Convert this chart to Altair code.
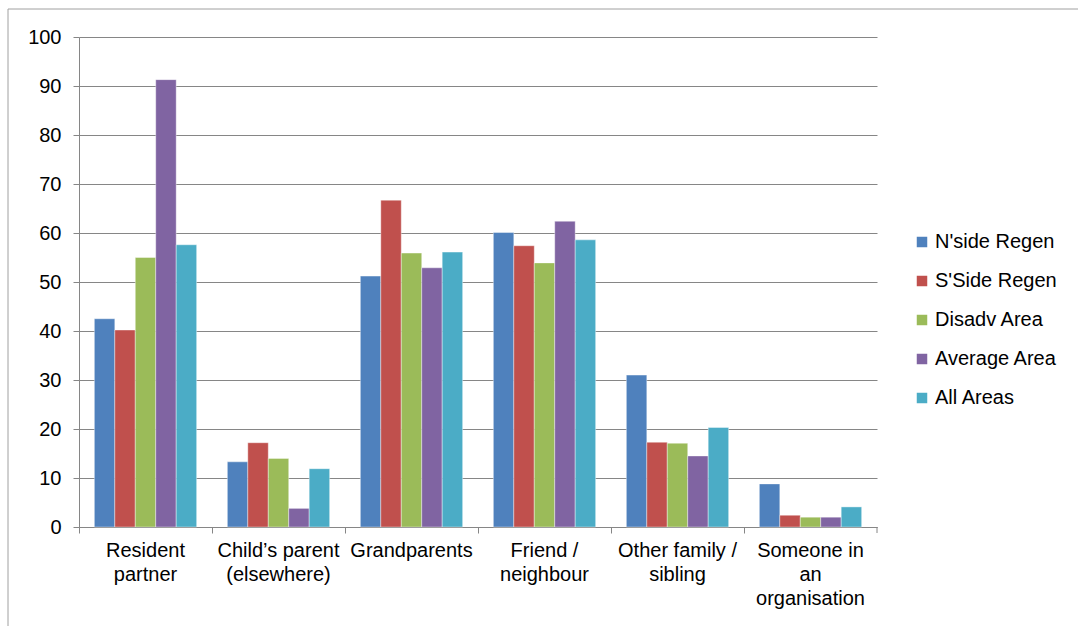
import json
import altair as alt
import pandas as pd

categories = [
    "Resident partner",
    "Child’s parent (elsewhere)",
    "Grandparents",
    "Friend / neighbour",
    "Other family / sibling",
    "Someone in an organisation",
]
label_lines = {
    "Resident partner": ["Resident", "partner"],
    "Child’s parent (elsewhere)": ["Child’s parent", "(elsewhere)"],
    "Grandparents": ["Grandparents"],
    "Friend / neighbour": ["Friend /", "neighbour"],
    "Other family / sibling": ["Other family /", "sibling"],
    "Someone in an organisation": ["Someone in", "an", "organisation"],
}
series = ["N'side Regen", "S'Side Regen", "Disadv Area", "Average Area", "All Areas"]
colors = ["#4F81BD", "#C0504D", "#9BBB59", "#8064A2", "#4BACC6"]

nside = [42.5, 13.3, 51.2, 60.1, 31.0, 8.8]
sside = [40.2, 17.2, 66.7, 57.4, 17.3, 2.4]
disadv = [55.0, 14.0, 55.9, 53.9, 17.1, 2.0]
average = [91.3, 3.8, 52.9, 62.4, 14.5, 2.0]
allareas = [57.6, 11.9, 56.1, 58.6, 20.3, 4.1]
y_ticks = list(range(0, 101, 10))

rows = []
for s, vals in zip(series, [nside, sside, disadv, average, allareas]):
    for c, v in zip(categories, vals):
        rows.append({"category": c, "series": s, "value": v})
df = pd.DataFrame(rows)

W, H = 798, 490
FONT = "Liberation Sans"
GREY = "#868686"
FS = 20

label_expr = json.dumps(label_lines, ensure_ascii=False) + "[datum.value]"

bars = alt.Chart(df).mark_bar(stroke="white", strokeWidth=0.4).encode(
    x=alt.X(
        "category:N",
        sort=categories,
        scale=alt.Scale(paddingInner=0, paddingOuter=0),
        axis=alt.Axis(
            title=None,
            bandPosition=0,
            labelExpr=label_expr,
            labelAngle=0,
            labelAlign="center",
            labelBaseline="top",
            labelFont=FONT,
            labelFontSize=FS,
            labelColor="black",
            labelLineHeight=24,
            labelPadding=7,
            labelOverlap=False,
            labelBound=False,
            tickSize=6,
            tickColor=GREY,
            domainColor=GREY,
            grid=False,
        ),
    ),
    xOffset=alt.XOffset(
        "series:N",
        sort=series,
        scale=alt.Scale(paddingInner=0, paddingOuter=0.75),
    ),
    y=alt.Y(
        "value:Q",
        scale=alt.Scale(domain=[0, 100], nice=False),
        axis=alt.Axis(
            title=None,
            values=y_ticks,
            labelFont=FONT,
            labelFontSize=FS,
            labelColor="black",
            labelPadding=12,
            tickSize=6,
            tickColor=GREY,
            domainColor=GREY,
            gridColor=GREY,
            gridWidth=1,
        ),
    ),
    color=alt.Color(
        "series:N",
        sort=series,
        scale=alt.Scale(domain=series, range=colors),
        legend=alt.Legend(
            title=None,
            orient="none",
            legendX=833,
            legendY=195,
            symbolType="square",
            symbolSize=110,
            symbolStrokeWidth=0,
            labelFont=FONT,
            labelFontSize=FS,
            labelColor="black",
            labelOffset=3,
            rowPadding=19,
        ),
    ),
)

one = pd.DataFrame({"k": [0]})
last_tick = alt.Chart(one).mark_rule(color=GREY, strokeWidth=1).encode(
    x=alt.value(W), y=alt.value(H), y2=alt.value(H + 6)
)
frame_top = alt.Chart(one).mark_rule(color="#A0A0A0", strokeWidth=1).encode(
    x=alt.value(-71), x2=alt.value(1078 - 79), y=alt.value(9 - 37)
)
frame_left = alt.Chart(one).mark_rule(color="#A0A0A0", strokeWidth=1).encode(
    x=alt.value(-71), y=alt.value(9 - 37), y2=alt.value(626 - 37)
)

chart = (
    alt.layer(bars, last_tick, frame_top, frame_left)
    .properties(
        width=W,
        height=H,
        autosize=alt.AutoSizeParams(type="none"),
        padding={"left": 79, "top": 37, "right": 201, "bottom": 99},
        background="white",
    )
    .configure_view(stroke=None)
)

chart.save("out.html", embed_options={"renderer": "svg", "actions": False})
